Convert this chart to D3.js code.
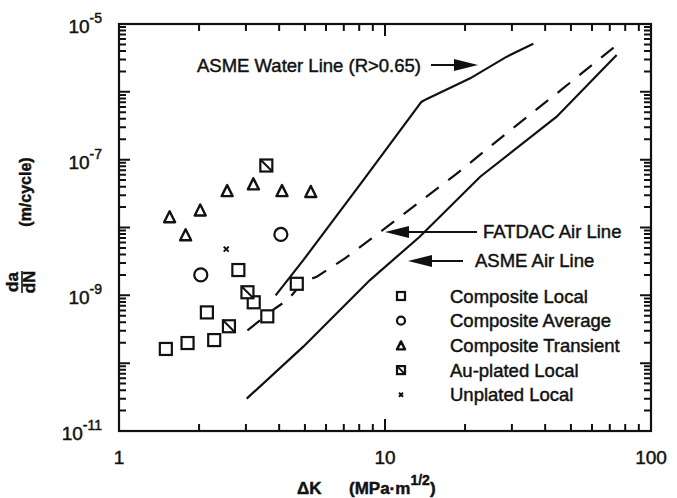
<!DOCTYPE html>
<html>
<head>
<meta charset="utf-8">
<script src="https://cdnjs.cloudflare.com/ajax/libs/d3/7.8.5/d3.min.js"></script>
<style>
  body { margin: 0; background: #fff; }
  text { font-family: "Liberation Sans", Arial, sans-serif; fill: #111; stroke: #111; stroke-width: 0.45; }
</style>
</head>
<body>
<div id="chart"></div>
<script>
// data: stress intensity range (MPa m^1/2) vs crack growth rate (m/cycle)
const localK = [1.50, 1.81, 2.28, 2.14, 2.81, 3.21, 3.61, 4.66];
const localRate = [1.62e-10, 1.98e-10, 2.19e-10, 5.6e-10, 2.36e-9, 7.9e-10, 4.9e-10, 1.48e-9];
const averageK = [2.03, 4.06];
const averageRate = [2.0e-9, 7.9e-9];
const transientK = [1.55, 1.78, 2.02, 2.55, 3.20, 4.10, 5.26];
const transientRate = [1.44e-8, 7.8e-9, 1.81e-8, 3.5e-8, 4.4e-8, 3.5e-8, 3.4e-8];
const auPlatedK = [3.04, 2.59, 3.58];
const auPlatedRate = [1.11e-9, 3.5e-10, 8.2e-8];
const unplatedK = [2.53];
const unplatedRate = [4.8e-9];

const waterK = [3.88, 4.93, 8.29, 13.7, 14.3, 20.9, 28.7, 36.1];
const waterRate = [1.0e-9, 3.3e-9, 5.0e-8, 7.1e-7, 7.8e-7, 1.58e-6, 3.3e-6, 5.1e-6];
const fatdacK = [3.04, 3.86, 4.33, 4.93, 5.54, 7.07, 8.91, 11.4, 18.3, 29.1, 46.8, 74.3];
const fatdacRate = [3.05e-10, 6.4e-10, 8.7e-10, 1.59e-9, 1.88e-9, 3.5e-9, 6.9e-9, 1.44e-8, 5.9e-8, 2.58e-7, 1.13e-6, 4.9e-6];
const airK = [3.02, 4.93, 8.78, 13.5, 22.8, 44.2, 74.3];
const airRate = [3.0e-11, 1.75e-10, 1.68e-9, 7.3e-9, 5.6e-8, 4.3e-7, 3.5e-6];

const xTickLabels = [1, 10, 100];
const yTickExponents = [-5, -7, -9, -11];
const legendLabels = ['Composite Local', 'Composite Average', 'Composite Transient', 'Au-plated Local', 'Unplated Local'];
const legendKinds = ['square', 'circle', 'triangle', 'hatched', 'cross'];

const width = 677;
const height = 498;
const plotL = 119, plotR = 651, plotT = 24, plotB = 431;

const svg = d3.select('#chart').append('svg')
  .attr('width', width)
  .attr('height', height);

const x = d3.scaleLog().domain([1, 100]).range([plotL, plotR]);
const y = d3.scaleLog().domain([1e-11, 1e-5]).range([plotB, plotT]);

// tick positions (minor at 2..9 of each decade, longer at decades)
const xMinor = [];
[1, 10].forEach(d => { for (let m = 2; m <= 9; m++) xMinor.push(m * d); });
const yMajor = d3.range(-11, -4).map(e => Math.pow(10, e));
const yMinor = [];
d3.range(-11, -5).forEach(e => { for (let m = 2; m <= 9; m++) yMinor.push(m * Math.pow(10, e)); });

// frame
svg.append('rect')
  .attr('x', plotL).attr('y', plotT)
  .attr('width', plotR - plotL).attr('height', plotB - plotT)
  .attr('fill', 'none').attr('stroke', '#111').attr('stroke-width', 2.2);

// tick labels
svg.selectAll('.xlab').data(xTickLabels).join('text')
  .attr('x', d => x(d))
  .attr('y', 464)
  .attr('text-anchor', 'middle')
  .attr('font-size', 19)
  .text(d => d);

const ylab = svg.selectAll('.ylab').data(yTickExponents).join('text')
  .attr('x', 102)
  .attr('y', d => y(Math.pow(10, d)) + 9)
  .attr('text-anchor', 'end')
  .attr('font-size', 19);
ylab.append('tspan').text('10');
ylab.append('tspan').attr('dy', -10).attr('font-size', 14).text(d => '-' + Math.abs(d));

// axis titles
const xt = svg.append('text').attr('x', 297).attr('y', 494).attr('font-size', 17).attr('font-weight', 'bold');
xt.append('tspan').text('\u0394K');
xt.append('tspan').attr('x', 349).text('(MPa\u00b7m');
xt.append('tspan').attr('dy', -9).attr('font-size', 14).text('1/2');
xt.append('tspan').attr('dy', 9).text(')');

const yt = svg.append('g').attr('transform', 'translate(22,282) rotate(-90)');
yt.append('text').attr('x', 0).attr('y', -4).attr('text-anchor', 'middle')
  .attr('font-size', 17).attr('font-weight', 'bold').text('da');
yt.append('line').attr('x1', -11).attr('x2', 11).attr('y1', 0).attr('y2', 0)
  .attr('stroke', '#111').attr('stroke-width', 1.6);
yt.append('text').attr('x', 0).attr('y', 13).attr('text-anchor', 'middle')
  .attr('font-size', 17).attr('font-weight', 'bold').text('dN');
svg.append('text')
  .attr('transform', 'translate(31,192) rotate(-90)')
  .attr('text-anchor', 'middle')
  .attr('font-size', 16).attr('font-weight', 'bold')
  .text('(m/cycle)');

// reference lines
const line = d3.line().x(d => x(d[0])).y(d => y(d[1]));
function drawLine(ks, rates, dash) {
  svg.append('path')
    .datum(d3.zip(ks, rates))
    .attr('d', line)
    .attr('fill', 'none')
    .attr('stroke', '#111')
    .attr('stroke-width', 2.2)
    .attr('stroke-dasharray', dash);
}
drawLine(waterK, waterRate, null);
drawLine(fatdacK, fatdacRate, '16,12');
drawLine(airK, airRate, null);

// markers
function marker(g, kind, s) {
  if (kind === 'square' || kind === 'hatched') {
    g.append('rect').attr('x', -s / 2).attr('y', -s / 2).attr('width', s).attr('height', s)
      .attr('fill', '#fff').attr('stroke', '#111').attr('stroke-width', 2.2);
    if (kind === 'hatched') {
      g.append('line').attr('x1', -s / 2).attr('y1', -s / 2).attr('x2', s / 2).attr('y2', s / 2)
        .attr('stroke', '#111').attr('stroke-width', 2);
    }
  } else if (kind === 'circle') {
    g.append('circle').attr('r', s / 2).attr('fill', '#fff').attr('stroke', '#111').attr('stroke-width', 2.2);
  } else if (kind === 'triangle') {
    g.append('path').attr('d', `M0,${-s / 2}L${s / 2},${s / 2}L${-s / 2},${s / 2}Z`)
      .attr('fill', '#fff').attr('stroke', '#111').attr('stroke-width', 2.4).attr('stroke-linejoin', 'round');
  } else if (kind === 'cross') {
    const c = s / 4;
    g.append('path').attr('d', `M${-c},${-c}L${c},${c}M${c},${-c}L${-c},${c}`)
      .attr('stroke', '#111').attr('stroke-width', 2);
  }
}
function drawSeries(ks, rates, kind, s) {
  d3.zip(ks, rates).forEach(d => {
    const g = svg.append('g').attr('transform', `translate(${x(d[0])},${y(d[1])})`);
    marker(g, kind, s);
  });
}
drawSeries(localK, localRate, 'square', 12);
drawSeries(averageK, averageRate, 'circle', 13);
drawSeries(transientK, transientRate, 'triangle', 11);
drawSeries(auPlatedK, auPlatedRate, 'hatched', 12);
drawSeries(unplatedK, unplatedRate, 'cross', 10);

// annotations with arrows
function arrow(x1, x2, yy) {
  const dir = Math.sign(x2 - x1);
  svg.append('line').attr('x1', x1).attr('x2', x2 - dir * 20).attr('y1', yy).attr('y2', yy)
    .attr('stroke', '#111').attr('stroke-width', 2);
  svg.append('path')
    .attr('d', `M${x2},${yy}L${x2 - dir * 24},${yy - 6}L${x2 - dir * 24},${yy + 6}Z`)
    .attr('fill', '#111');
}
svg.append('text').attr('x', 197).attr('y', 72).attr('font-size', 18.5).text('ASME Water Line (R>0.65)');
arrow(431, 478, 65);
svg.append('text').attr('x', 483).attr('y', 238).attr('font-size', 18.5).text('FATDAC Air Line');
arrow(477, 385, 232);
svg.append('text').attr('x', 475).attr('y', 267).attr('font-size', 18.5).text('ASME Air Line');
arrow(463, 408, 261);

// legend
const legend = svg.selectAll('.leg').data(legendLabels).join('g')
  .attr('transform', (d, i) => `translate(401,${296 + i * 24.7})`);
legend.each(function(d, i) { marker(d3.select(this), legendKinds[i], 8); });
legend.append('text').attr('x', 49).attr('y', 6.5).attr('font-size', 18.5).text(d => d);

// inward ticks on all four sides, drawn last as one path each
function tickPath(vals, len, horizontal) {
  let d = '';
  vals.forEach(v => {
    if (horizontal) {
      const px = x(v);
      d += `M${px},${plotB}V${plotB - len}M${px},${plotT}V${plotT + len}`;
    } else {
      const py = y(v);
      d += `M${plotL},${py}H${plotL + len}M${plotR},${py}H${plotR - len}`;
    }
  });
  svg.append('path').attr('d', d).attr('fill', 'none')
    .attr('stroke', '#111').attr('stroke-width', 2);
}
tickPath(xMinor, 7, true);
tickPath([10], 12, true);
tickPath(yMinor, 7, false);
tickPath(yMajor, 11, false);
</script>
</body>
</html>
